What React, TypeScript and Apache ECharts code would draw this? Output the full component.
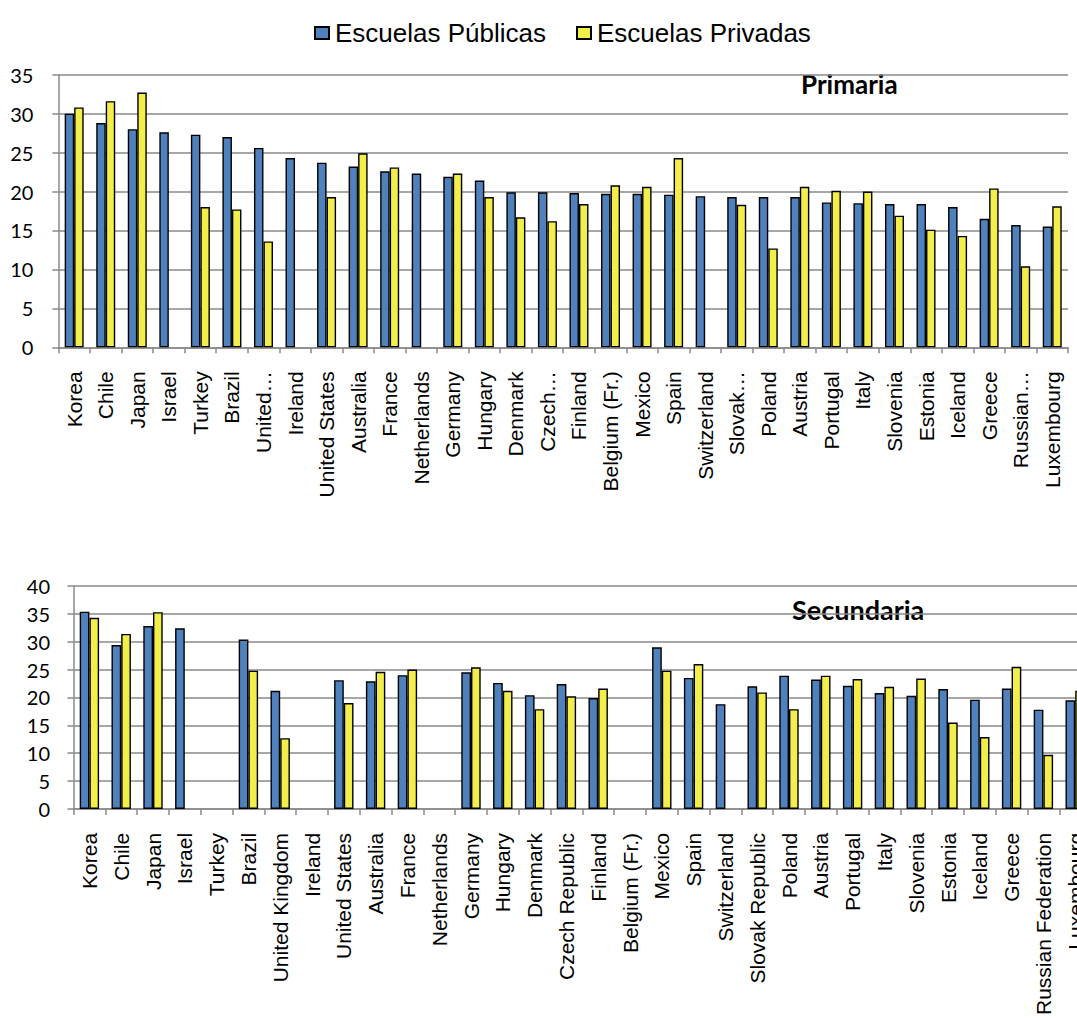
import React, { useEffect, useRef } from "react";
import * as echarts from "echarts";

const primaryCategories = [
  "Korea", "Chile", "Japan", "Israel", "Turkey", "Brazil", "United…", "Ireland",
  "United States", "Australia", "France", "Netherlands", "Germany", "Hungary", "Denmark", "Czech…",
  "Finland", "Belgium (Fr.)", "Mexico", "Spain", "Switzerland", "Slovak…", "Poland", "Austria",
  "Portugal", "Italy", "Slovenia", "Estonia", "Iceland", "Greece", "Russian…", "Luxembourg",
];

const secondaryCategories = [
  "Korea", "Chile", "Japan", "Israel", "Turkey", "Brazil", "United Kingdom", "Ireland",
  "United States", "Australia", "France", "Netherlands", "Germany", "Hungary", "Denmark", "Czech Republic",
  "Finland", "Belgium (Fr.)", "Mexico", "Spain", "Switzerland", "Slovak Republic", "Poland", "Austria",
  "Portugal", "Italy", "Slovenia", "Estonia", "Iceland", "Greece", "Russian Federation", "Luxembourg",
];

const seriesNames = ["Escuelas Públicas", "Escuelas Privadas"];

const primaryPublic = [
  30.0, 28.8, 28.0, 27.6, 27.3, 27.0, 25.6, 24.3,
  23.7, 23.2, 22.6, 22.3, 21.9, 21.4, 19.9, 19.9,
  19.8, 19.7, 19.7, 19.6, 19.4, 19.3, 19.3, 19.3,
  18.6, 18.5, 18.4, 18.4, 18.0, 16.5, 15.7, 15.5,
];
const primaryPrivate = [
  30.8, 31.6, 32.7, null, 18.0, 17.7, 13.6, null,
  19.3, 24.9, 23.1, null, 22.3, 19.3, 16.7, 16.2,
  18.4, 20.8, 20.6, 24.3, null, 18.3, 12.7, 20.6,
  20.1, 20.0, 16.9, 15.1, 14.3, 20.4, 10.4, 18.1,
];

const secondaryPublic = [
  35.4, 29.4, 32.8, 32.4, null, 30.4, 21.2, null,
  23.1, 22.9, 24.0, null, 24.5, 22.6, 20.4, 22.4,
  19.9, null, 29.0, 23.5, 18.8, 22.0, 23.9, 23.2,
  22.1, 20.8, 20.3, 21.5, 19.6, 21.6, 17.8, 19.5,
];
const secondaryPrivate = [
  34.3, 31.4, 35.3, null, null, 24.8, 12.7, null,
  19.0, 24.6, 25.0, null, 25.4, 21.2, 17.9, 20.2,
  21.6, null, 24.8, 26.0, null, 20.9, 17.9, 23.9,
  23.3, 21.9, 23.4, 15.5, 12.9, 25.5, 9.7, 21.2,
];

const BLUE = "#4F81BD";
const YELLOW = "#F2EE4C";
const GRID_GRAY = "#8a8a8a";

export default function App() {
  const ref = useRef<HTMLDivElement>(null);

  useEffect(() => {
    if (!ref.current) return;
    const chart = echarts.init(ref.current, null, { renderer: "svg" });

    const xAxisCommon = (data: string[], gridIndex: number) => ({
      type: "category",
      gridIndex,
      data,
      boundaryGap: true,
      axisLine: { show: true, lineStyle: { color: GRID_GRAY, width: 1.5 } },
      axisTick: { show: true, length: 6, lineStyle: { color: GRID_GRAY, width: 1.5 } },
      axisLabel: {
        interval: 0,
        rotate: 90,
        margin: 24,
        color: "#000",
        fontFamily: "Liberation Sans, Arial, sans-serif",
        fontSize: 21,
      },
    });

    const yAxisCommon = (gridIndex: number, max: number, margin: number) => ({
      type: "value",
      gridIndex,
      min: 0,
      max,
      interval: 5,
      axisLine: { show: true, lineStyle: { color: GRID_GRAY, width: 1.5 } },
      axisTick: { show: true, length: 6, lineStyle: { color: GRID_GRAY, width: 1.5 } },
      splitLine: { show: true, lineStyle: { color: GRID_GRAY, width: 1.5 } },
      axisLabel: {
        margin,
        color: "#000",
        fontFamily: "Lato, sans-serif",
        fontSize: 20,
      },
    });

    const barStyle = (color: string) => ({
      color,
      borderColor: "#000",
      borderWidth: 1.4,
    });

    chart.setOption({
      animation: false,
      backgroundColor: "#fff",
      legend: {
        data: seriesNames,
        left: 309,
        top: 15,
        icon: "rect",
        itemWidth: 14,
        itemHeight: 12,
        itemGap: 30,
        textStyle: {
          color: "#000",
          fontFamily: "Liberation Sans, Arial, sans-serif",
          fontSize: 26,
          padding: [0, 0, 0, 1],
        },
      },
      grid: [
        { left: 58.4, top: 74.7, width: 1009.6, height: 272.6 },
        { left: 73.5, top: 586, width: 1017.6, height: 227.3 },
      ],
      xAxis: [xAxisCommon(primaryCategories, 0), xAxisCommon(secondaryCategories, 1)],
      yAxis: [yAxisCommon(0, 35, 25), yAxisCommon(1, 40, 23.5)],
      graphic: [
        {
          type: "text",
          left: 801,
          top: 71,
          style: {
            text: "Primaria",
            fill: "#000",
            fontFamily: "Lato, sans-serif",
            fontWeight: "bold",
            fontSize: 26,
          },
        },
        {
          type: "text",
          left: 792,
          top: 596,
          style: {
            text: "Secundaria",
            fill: "#000",
            fontFamily: "Lato, sans-serif",
            fontWeight: "bold",
            fontSize: 27,
          },
        },
      ],
      series: [
        {
          name: seriesNames[0],
          type: "bar",
          xAxisIndex: 0,
          yAxisIndex: 0,
          data: primaryPublic,
          barWidth: 9.5,
          barGap: "0%",
          itemStyle: barStyle(BLUE),
        },
        {
          name: seriesNames[1],
          type: "bar",
          xAxisIndex: 0,
          yAxisIndex: 0,
          data: primaryPrivate,
          barWidth: 9.5,
          barGap: "0%",
          itemStyle: barStyle(YELLOW),
        },
        {
          name: seriesNames[0],
          type: "bar",
          xAxisIndex: 1,
          yAxisIndex: 1,
          data: secondaryPublic,
          barWidth: 9.7,
          barGap: "0%",
          itemStyle: barStyle(BLUE),
        },
        {
          name: seriesNames[1],
          type: "bar",
          xAxisIndex: 1,
          yAxisIndex: 1,
          data: secondaryPrivate,
          barWidth: 9.7,
          barGap: "0%",
          itemStyle: barStyle(YELLOW),
        },
      ],
    });

    return () => chart.dispose();
  }, []);

  return (
    <div
      style={{
        position: "fixed",
        left: 0,
        top: 0,
        width: 1077,
        height: 1018,
        overflow: "hidden",
        background: "#fff",
      }}
    >
      <div ref={ref} style={{ width: 1100, height: 1018 }} />
    </div>
  );
}
